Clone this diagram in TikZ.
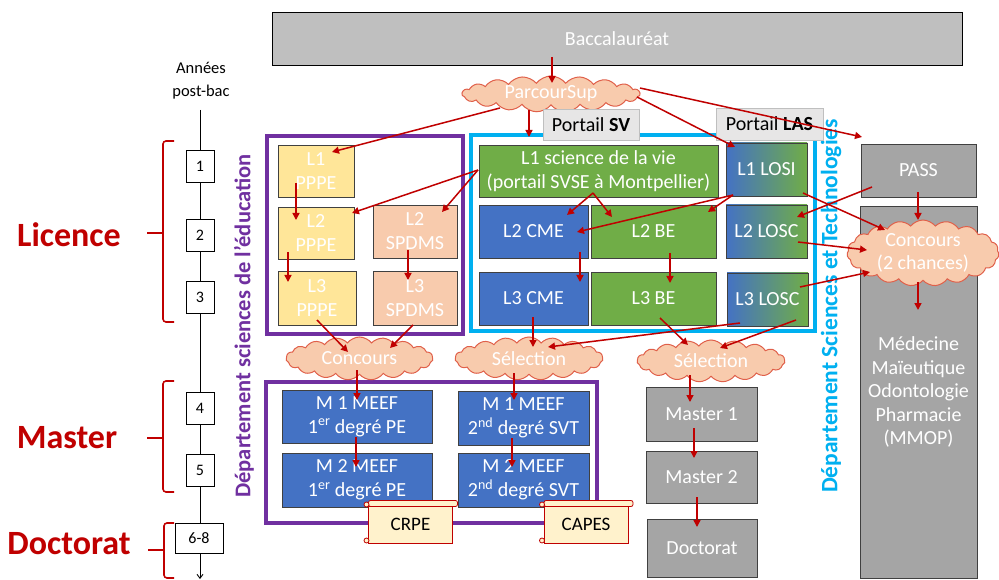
\documentclass[tikz,border=0pt]{standalone}
\usepackage{fontspec}
\setmainfont{Carlito}
\usetikzlibrary{shapes.symbols,arrows.meta}
\definecolor{dred}{HTML}{C00000}
\definecolor{cgray}{HTML}{A5A5A5}
\definecolor{bgray}{HTML}{BFBFBF}
\definecolor{cgreen}{HTML}{70AD47}
\definecolor{cblue}{HTML}{4472C4}
\definecolor{cyel}{HTML}{FFE699}
\definecolor{corange}{HTML}{F8CBAD}
\definecolor{cpurple}{HTML}{7030A0}
\definecolor{ccyan}{HTML}{00B0F0}
\definecolor{cloudline}{HTML}{E0604A}
\definecolor{scrollfill}{HTML}{FFF2CC}
\definecolor{portfill}{HTML}{E7E6E6}
\definecolor{boxline}{HTML}{404040}
\newcommand\myscroll[4]{%
  \fill[scrollfill,draw=dred,line width=0.8pt,rounded corners=2pt] (#2-42,#3-24) rectangle (#2+47,#3-18);
  \node[scrollbody] (#1) at (#2,#3) {#4};
  \draw[dred,fill=scrollfill,line width=0.8pt] (#2-44,#3-20) circle (2.5pt);
  \draw[dred,fill=scrollfill,line width=0.8pt] (#2-44,#3+16) circle (2.5pt);
}
\begin{document}
\begin{tikzpicture}[x=1pt,y=-1pt,
  box/.style={draw=boxline, line width=0.9pt, inner sep=0pt, outer sep=0pt, text=white, align=center, font=\fontsize{20}{24}\selectfont},
  gbox/.style={box, fill=cgreen},
  bbox/.style={box, fill=cblue},
  ybox/.style={box, fill=cyel},
  obox/.style={box, fill=corange},
  grbox/.style={box, fill=cgray},
  lbox/.style={box, left color=cblue, right color=cgreen},
  frame/.style={draw=#1, line width=3.5pt, inner sep=0pt, minimum width=10pt},
  port/.style={draw=bgray, fill=portfill, line width=0.8pt, inner sep=0pt, text=black, font=\fontsize{20}{24}\selectfont},
  cloudn/.style={cloud, cloud puffs=19, cloud puff arc=105, cloud ignores aspect, draw=cloudline, fill=corange, line width=1pt, text=white, inner sep=0pt, align=center, font=\fontsize{20}{23}\selectfont},
  yr/.style={draw=black, fill=white, line width=0.8pt, minimum width=28pt, minimum height=32pt, inner sep=0pt, font=\fontsize{16}{18}\selectfont},
  cycle/.style={text=dred, font=\bfseries\fontsize{34}{38}\selectfont},
  brace/.style={draw=dred, line width=1.6pt, rounded corners=3pt},
  dept/.style={rotate=90, font=\bfseries\fontsize{22.5}{24}\selectfont, text=#1},
  scrollbody/.style={fill=scrollfill, draw=dred, line width=0.8pt, minimum width=84pt, minimum height=37pt, inner sep=0pt, text=black, font=\fontsize{19}{22}\selectfont},
  arr/.style={draw=dred, line width=1.5pt, -{Triangle[length=7pt,width=7pt]}}
]
\useasboundingbox (0,0) rectangle (999,580);
\fill[white] (0,0) rectangle (999,580);

% timeline
\node[font=\fontsize{16.5}{23}\selectfont, align=center] (annees) at (201,81) {Années\\post-bac};
\coordinate (tltop) at (200,110);
\coordinate (tlbot) at (200,579);
\draw[line width=0.9pt, -{Straight Barb[length=4pt,width=6pt]}] (tltop) -- (tlbot);
\node[yr] (y1) at (200,166) {1};
\node[yr] (y2) at (200,235.5) {2};
\node[yr] (y3) at (200,297.5) {3};
\node[yr] (y4) at (200,408.5) {4};
\node[yr] (y5) at (200,470) {5};
\node[yr, minimum width=48pt, minimum height=30pt] (y68) at (199,538) {6-8};

\draw[brace] (174,141) -- (163,141) -- (163,322) -- (174,322);
\draw[brace] (147,233) -- (163,233);
\draw[brace] (174,381) -- (163,381) -- (163,492) -- (174,492);
\draw[brace] (147,438) -- (163,438);
\draw[brace] (174,523) -- (164,523) -- (164,578) -- (174,578);
\draw[brace] (148,550) -- (164,550);
\node[cycle] (lic) at (69,235) {Licence};
\node[cycle] (mas) at (67,438) {Master};
\node[cycle] (doc) at (69,544) {Doctorat};

% departments
\node[dept=cpurple] (dedu) at (244,326) {Département sciences de l’éducation};
\node[dept=ccyan, font=\bfseries\fontsize{23.5}{25}\selectfont] (dst) at (831,306) {Département Sciences et Technologies};

% top
\node[box, fill=bgray, draw=black, minimum width=690pt, minimum height=53pt] (bac) at (617,38.5) {Baccalauréat};
\node[cloudn, minimum width=178pt, minimum height=36pt] (ps) at (551,94) {ParcourSup};

% frames
\node[frame=cpurple, minimum width=196pt, minimum height=198pt] (fedu) at (365,235) {};
\node[frame=ccyan, minimum width=344pt, minimum height=196pt] (fst) at (643,233) {};
\node[frame=cpurple, minimum width=331pt, minimum height=141pt] (fmeef) at (431.5,452.5) {};
\node[port, minimum width=96pt, minimum height=31pt] (psv) at (591,124.5) {Portail \textbf{SV}};
\node[port, minimum width=107pt, minimum height=32pt] (plas) at (769.5,124) {Portail \textbf{LAS}};

% licence boxes
\node[ybox, minimum width=76pt, minimum height=52pt] (l1pppe) at (316,171) {L1\\PPPE};
\node[ybox, minimum width=76pt, minimum height=52pt] (l2pppe) at (316,233) {L2\\PPPE};
\node[ybox, minimum width=78pt, minimum height=54pt] (l3pppe) at (317,298) {L3\\PPPE};
\node[obox, minimum width=84pt, minimum height=53pt] (l2sp) at (415,231.5) {L2\\SPDMS};
\node[obox, minimum width=84pt, minimum height=54pt] (l3sp) at (415,298) {L3\\SPDMS};
\node[gbox, minimum width=239pt, minimum height=52pt] (l1sv) at (598.5,171) {L1 science de la vie\\(portail SVSE à Montpellier)};
\node[lbox, minimum width=81pt, minimum height=53pt] (losi) at (766.5,169.5) {L1 LOSI};
\node[bbox, minimum width=109pt, minimum height=53pt] (l2cme) at (533.5,231.5) {L2 CME};
\node[gbox, minimum width=125pt, minimum height=53pt] (l2be) at (653.5,231.5) {L2 BE};
\node[lbox, minimum width=81pt, minimum height=53pt] (l2losc) at (766.5,231.5) {L2 LOSC};
\node[bbox, minimum width=109pt, minimum height=53pt] (l3cme) at (533.5,298.5) {L3 CME};
\node[gbox, minimum width=125pt, minimum height=53pt] (l3be) at (653.5,298.5) {L3 BE};
\node[lbox, minimum width=81pt, minimum height=53pt] (l3losc) at (767.5,299.5) {L3 LOSC};

% medical
\node[grbox, minimum width=115pt, minimum height=53pt] (pass) at (918.5,170.5) {PASS};
\node[grbox, minimum width=117pt, minimum height=372pt, font=\fontsize{20}{23.5}\selectfont] (mmop) at (918.5,392) {Médecine\\Maïeutique\\Odontologie\\Pharmacie\\(MMOP)};
\node[cloudn, minimum width=152pt, minimum height=66pt] (c2) at (923,253) {Concours\\(2 chances)};

% selection clouds
\node[cloudn, minimum width=147pt, minimum height=43pt] (conc) at (359.5,358.5) {Concours};
\node[cloudn, minimum width=148pt, minimum height=43pt] (sel1) at (529,358.5) {Sélection};
\node[cloudn, minimum width=148pt, minimum height=42pt] (sel2) at (711,361) {Sélection};

% master boxes
\node[bbox, minimum width=150pt, minimum height=53pt] (m11) at (357,416.5) {M 1 MEEF\\1\textsuperscript{er} degré PE};
\node[bbox, minimum width=150pt, minimum height=54pt] (m21) at (357,480) {M 2 MEEF\\1\textsuperscript{er} degré PE};
\node[bbox, minimum width=131pt, minimum height=54pt] (m12) at (523.5,418) {M 1 MEEF\\2\textsuperscript{nd} degré SVT};
\node[bbox, minimum width=131pt, minimum height=54pt] (m22) at (523.5,480) {M 2 MEEF\\2\textsuperscript{nd} degré SVT};
\myscroll{crpe}{410.5}{524.5}{CRPE}
\myscroll{capes}{586}{524.5}{CAPES}

\node[grbox, minimum width=111pt, minimum height=54pt] (master1) at (701.5,414) {Master 1};
\node[grbox, minimum width=111pt, minimum height=52pt] (master2) at (701.5,477) {Master 2};
\node[grbox, minimum width=110pt, minimum height=58pt] (doct) at (702,548) {Doctorat};

% arrows
\draw[arr] ([shift={(-65,18.5)}]bac.center) -- ([shift={(1,-11)}]ps.center);
\draw[arr] ([shift={(-51,14)}]ps.center) -- ([shift={(16,-19)}]l1pppe.center);
\draw[arr] ([shift={(-22,16)}]ps.center) -- ([shift={(-69.5,-34)}]l1sv.center);
\draw[arr] ([shift={(89,-6)}]ps.center) -- ([shift={(-56.5,-33.5)}]pass.center);
\draw[arr] ([shift={(86,3)}]ps.center) -- ([shift={(-31.5,-22.5)}]losi.center);
\draw[arr] ([shift={(-120.5,-1)}]l1sv.center) -- ([shift={(36,-20)}]l2pppe.center);
\draw[arr] ([shift={(-120.5,-1)}]l1sv.center) -- ([shift={(27,-19.5)}]l2sp.center);
\draw[arr] ([shift={(-20,12)}]l1pppe.center) -- ([shift={(-20,-13)}]l2pppe.center);
\draw[arr] ([shift={(-28,19)}]l2pppe.center) -- ([shift={(-29,-16)}]l3pppe.center);
\draw[arr] ([shift={(-7,18.5)}]l2sp.center) -- ([shift={(-7,-18)}]l3sp.center);
\draw[arr] ([shift={(0,22)}]l3pppe.center) -- ([shift={(-11.5,-6.5)}]conc.center);
\draw[arr] ([shift={(-2,27)}]l3sp.center) -- ([shift={(30.5,-10.5)}]conc.center);
\draw[arr] ([shift={(-5.5,22)}]l1sv.center) -- ([shift={(33.5,-16.5)}]l2cme.center);
\draw[arr] ([shift={(-5.5,22)}]l1sv.center) -- ([shift={(-41.5,-14.5)}]l2be.center);
\draw[arr] ([shift={(-33.5,25.5)}]losi.center) -- ([shift={(43.5,0.5)}]l2cme.center);
\draw[arr] ([shift={(-33.5,25.5)}]losi.center) -- ([shift={(54.5,-19.5)}]l2be.center);
\draw[arr] ([shift={(36.5,23.5)}]losi.center) -- ([shift={(-38,-23)}]c2.center);
\draw[arr] ([shift={(-46.5,16.5)}]pass.center) -- ([shift={(30.5,-14.5)}]l2losc.center);
\draw[arr] ([shift={(-0.5,21.5)}]pass.center) -- ([shift={(-5,-33)}]c2.center);
\draw[arr] ([shift={(31.5,10.5)}]l2losc.center) -- ([shift={(-56,-3)}]c2.center);
\draw[arr] ([shift={(32.5,-12.5)}]l3losc.center) -- ([shift={(-53,19)}]c2.center);
\draw[arr] ([shift={(-5,29)}]c2.center) -- ([shift={(-0.5,-82)}]mmop.center);
\draw[arr] ([shift={(46.5,20.5)}]l2cme.center) -- ([shift={(46.5,-16.5)}]l3cme.center);
\draw[arr] ([shift={(16.5,21.5)}]l2be.center) -- ([shift={(16.5,-15.5)}]l3be.center);
\draw[arr] ([shift={(-0.5,18.5)}]l3cme.center) -- ([shift={(4,-11.5)}]sel1.center);
\draw[arr] ([shift={(-27.5,23.5)}]l3losc.center) -- ([shift={(19,-11.5)}]sel1.center);
\draw[arr] ([shift={(6.5,19.5)}]l3be.center) -- ([shift={(-23,-16)}]sel2.center);
\draw[arr] ([shift={(28.5,20.5)}]l3losc.center) -- ([shift={(9,-13)}]sel2.center);
\draw[arr] ([shift={(-21,14)}]sel2.center) -- ([shift={(-11.5,-12)}]master1.center);
\draw[arr] ([shift={(-7.5,14)}]master1.center) -- ([shift={(-7.5,-19)}]master2.center);
\draw[arr] ([shift={(-4.5,20)}]master2.center) -- ([shift={(-5,-21)}]doct.center);
\draw[arr] ([shift={(-2.5,11.5)}]conc.center) -- ([shift={(0,-16.5)}]m11.center);
\draw[arr] ([shift={(-1,20.5)}]m11.center) -- ([shift={(-1,-13)}]m21.center);
\draw[arr] ([shift={(-15,14.5)}]sel1.center) -- ([shift={(-9.5,-18)}]m12.center);
\draw[arr] ([shift={(-11.5,20)}]m12.center) -- ([shift={(-11.5,-13)}]m22.center);
\end{tikzpicture}
\end{document}
